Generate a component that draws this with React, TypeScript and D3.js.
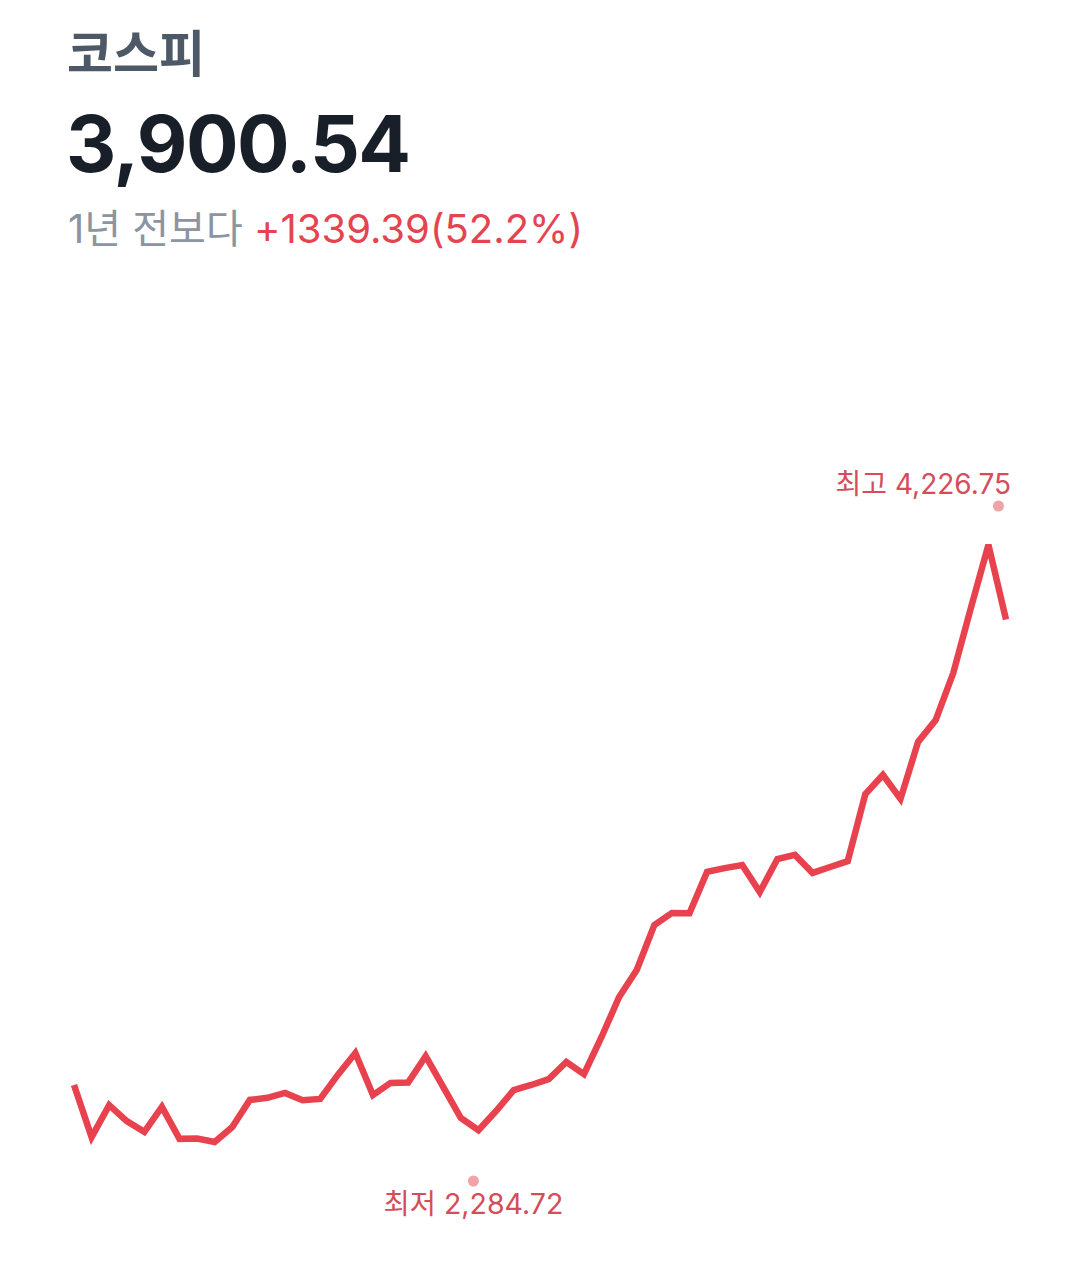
import React from "react";
import * as d3 from "d3";

const title = "코스피";
const currentValue = "3,900.54";
const changeLabel = "1년 전보다";
const changeValue = "+1339.39(52.2%)";

const startDate = "2024-11-01";
// weekly closes
const weeklyValues = [
  2561.15, 2411, 2503, 2457, 2426, 2498, 2406, 2407, 2397, 2440,
  2518, 2524, 2538, 2517, 2521, 2590, 2653, 2532, 2567, 2568,
  2644, 2555, 2466, 2431, 2486, 2546, 2561, 2578, 2627, 2592,
  2699, 2814, 2892, 3021, 3056, 3055, 3174, 3185, 3194, 3116,
  3211, 3223, 3171, 3188, 3205, 3398, 3453, 3384, 3548, 3611,
  3746, 3933, 4115, 3900.54,
];
const lowPoint = { date: "2025-04-09", value: 2284.72, label: "최저 2,284.72" };
const highPoint = { date: "2025-11-04", value: 4226.75, label: "최고 4,226.75" };

const W = 1080;
const H = 1277;
const FONT = "Inter, 'Noto Sans CJK KR', 'Noto Sans', sans-serif";

export default function App() {
  const parse = d3.utcParse("%Y-%m-%d");
  const start = parse(startDate) as Date;
  const data = weeklyValues.map((v, i) => ({ date: d3.utcDay.offset(start, 7 * i), value: v }));
  const x = d3
    .scaleUtc()
    .domain([data[0].date, data[data.length - 1].date])
    .range([74, 1006]);
  const y = d3.scaleLinear().domain([lowPoint.value, highPoint.value]).range([1181, 506]);
  const line = d3
    .line<{ date: Date; value: number }>()
    .x((d) => x(d.date))
    .y((d) => y(d.value));

  const lowX = x(parse(lowPoint.date) as Date);
  const highX = x(parse(highPoint.date) as Date);
  const red = "#e8424f";
  const labelRed = "#d64c58";
  const dotColor = "#f0a3a9";

  return (
    <svg
      width={W}
      height={H}
      style={{ position: "absolute", left: 0, top: 0, background: "#fff" }}
      fontFamily={FONT}
    >
      <rect width={W} height={H} fill="#fff" />
      <text x={67} y={72} fontSize={50} fontWeight={600} fill="#4e5968" fontFamily="'Noto Sans CJK KR', sans-serif">
        {title}
      </text>
      <text x={66} y={172} fontSize={78} fontWeight={700} fill="#191f28" letterSpacing={-1.5}>
        {currentValue}
      </text>
      <text x={68} y={243} fontSize={40}>
        <tspan fill="#8b95a1">{changeLabel} </tspan>
        <tspan fill="#e5434f">{changeValue}</tspan>
      </text>

      <path d={line(data) || ""} fill="none" stroke={red} strokeWidth={6.5} strokeLinejoin="miter" strokeLinecap="butt" />

      <circle cx={highX} cy={y(highPoint.value)} r={5.5} fill={dotColor} />
      <text x={1011} y={494} fontSize={28} fill={labelRed} textAnchor="end">
        {highPoint.label}
      </text>
      <circle cx={lowX} cy={y(lowPoint.value)} r={5.5} fill={dotColor} />
      <text x={lowX} y={1214} fontSize={28.5} fill={labelRed} textAnchor="middle">
        {lowPoint.label}
      </text>
    </svg>
  );
}
